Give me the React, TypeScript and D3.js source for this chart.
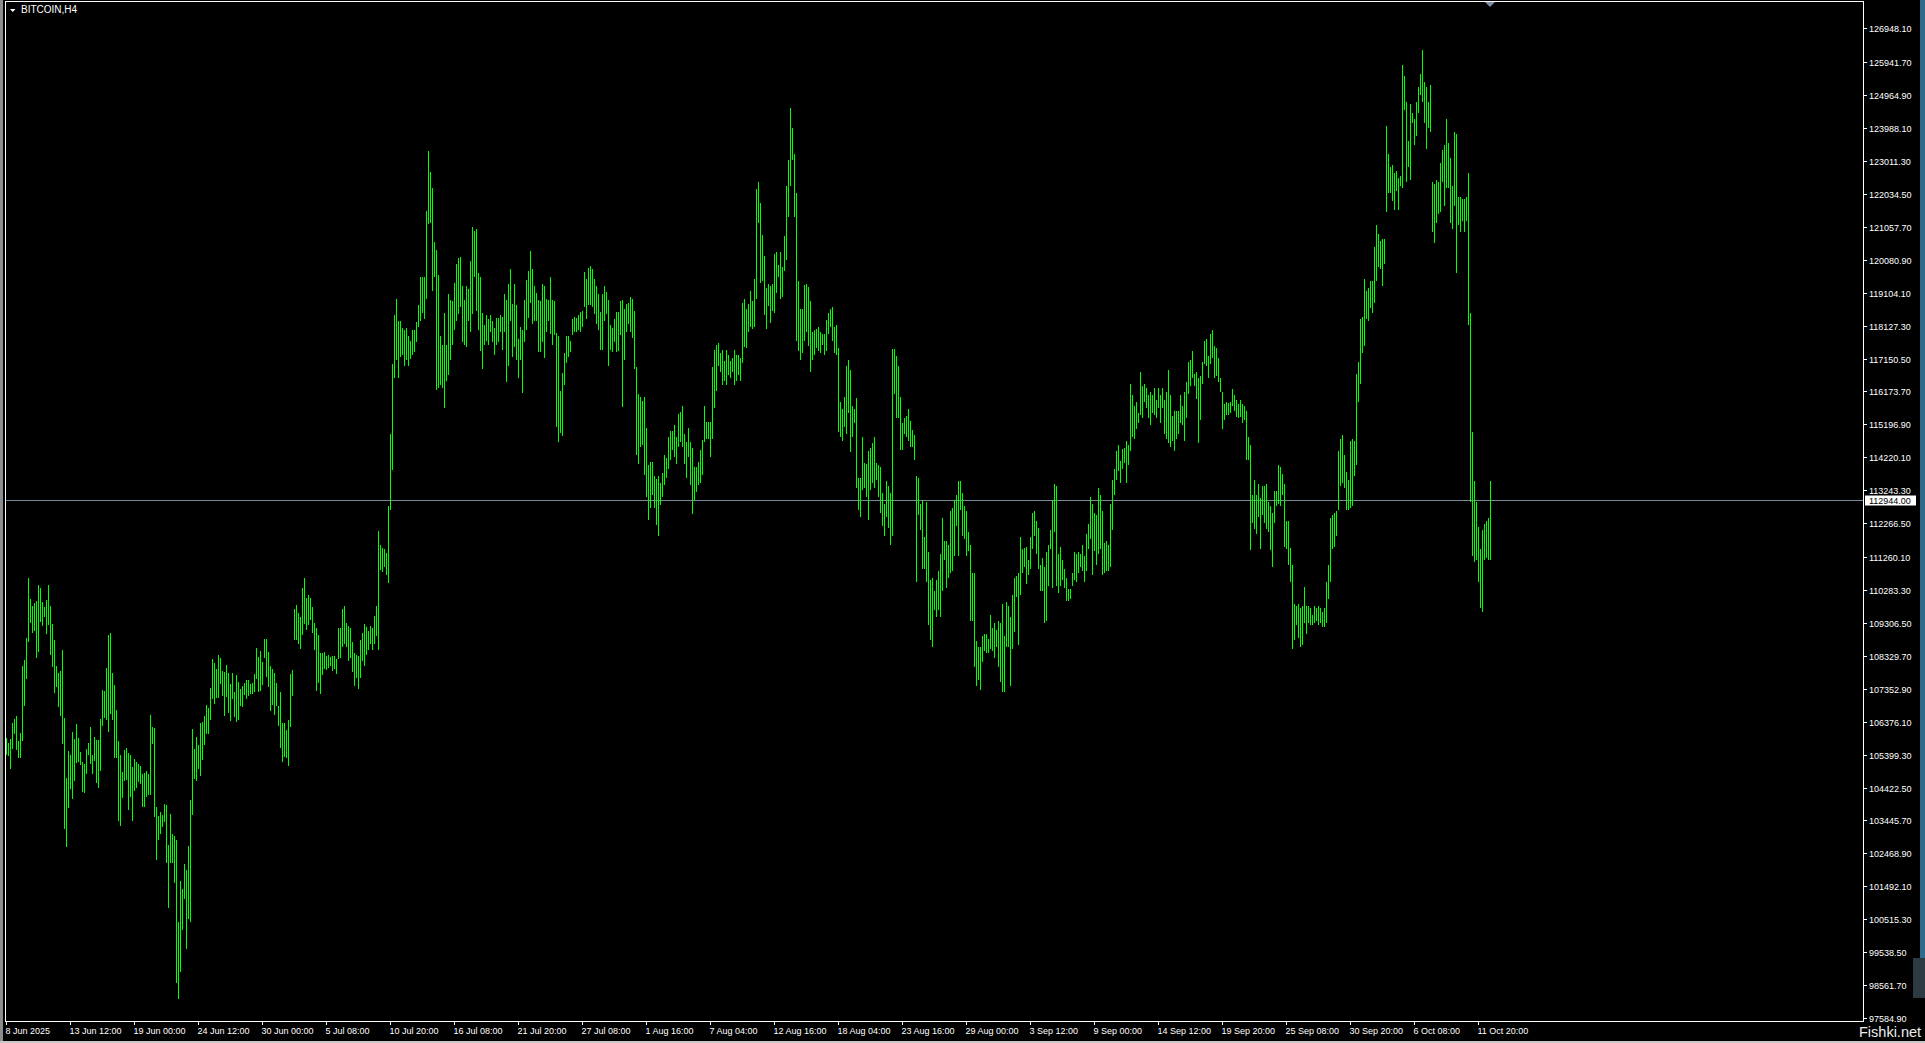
import React from 'react';
import * as d3 from 'd3';

// H4 bars, [high, low]
const junBars: [number, number][] = [
  [105880, 105440], [105730, 105410], [105850, 105020], [106330, 105610], [106450, 106060], [106540, 105580], [105790, 105350], [106030, 105350], [108020, 105850], [108200, 106890],
  [108850, 107690], [110630, 108790], [110010, 109360], [109800, 109060], [109890, 109120], [109950, 108320], [110430, 108500], [110340, 109390], [109920, 109270], [109770, 109530],
  [109980, 109030], [110430, 109300], [109800, 108410], [109270, 108050], [108790, 107280], [108020, 107460], [107810, 106860], [107870, 106590], [108500, 105760], [106480, 103240],
  [104690, 102700], [105500, 103860], [105380, 104430], [106060, 104130], [105850, 104660], [106300, 105200], [105880, 105230], [105470, 105140], [105170, 104340], [105110, 104310],
  [105560, 104870], [105730, 105440], [106210, 105170], [105380, 104870], [105910, 105260], [105820, 104600], [105820, 104460], [106450, 104960], [107310, 106300], [107280, 106540],
  [107960, 106480], [108940, 106120], [109000, 106650], [107810, 106480], [107460, 105350], [106710, 105350], [105790, 103480], [105380, 103330], [104870, 104160], [105530, 104660],
  [105580, 104690], [105440, 103800], [105380, 104190], [105020, 103480], [105260, 104370], [105170, 104460], [105110, 104630], [105050, 104580], [104810, 103890], [104840, 103890],
  [104900, 104190], [104810, 104250], [106560, 104250], [106210, 105760], [106180, 103590], [103830, 102320], [103560, 102910], [103680, 103090], [103590, 103300], [103920, 103450],
  [103890, 102230], [102700, 100890], [103620, 102230], [103030, 102230], [102970, 101630], [102850, 98660], [100420, 98190], [101630, 98990], [101400, 100240], [102140, 101160],
  [101960, 99670], [102670, 100570], [104040, 100480], [106150, 103650], [105560, 104720], [105910, 104660], [105670, 105020], [106330, 104810], [106360, 105290], [106540, 105730],
  [106860, 106060], [106770, 106060], [107370, 106480], [108230, 107100], [108110, 106950], [107930, 107130], [108350, 107130], [108260, 107540], [107870, 107190], [107840, 106590],
  [108050, 107160], [107810, 106680], [107490, 106450], [107810, 107100], [107250, 106560], [107750, 106420], [107540, 106480], [107340, 106890], [107430, 106860], [107520, 107220],
  [107600, 107100], [107600, 107190], [107490, 107250], [107520, 107250], [107780, 107310], [108550, 107690], [108290, 107310], [108470, 107340], [108140, 107520], [108820, 108320],
  [108820, 107750], [108440, 107460], [108020, 106740], [107930, 106920],
];

const julBars: [number, number][] = [
  [107810, 106620], [107520, 106890], [106830, 106300], [107250, 105640], [106330, 105230], [106330, 105380],
  [106120, 105350], [106420, 105110], [107780, 106270], [107900, 107190], [109710, 108850], [109830, 108850], [109590, 108730], [109480, 108580], [110340, 109000], [110630, 109330],
  [110040, 109150], [110130, 109300], [110040, 109450], [109770, 109060], [109300, 108550], [109150, 107340], [108940, 107570], [108410, 107250], [108410, 107810], [108440, 107990],
  [108320, 107960], [108350, 108020], [108290, 108080], [108320, 107930], [108320, 107990], [108230, 107840], [109150, 108290], [109150, 108320], [109710, 108640], [109800, 108730],
  [109300, 108640], [109210, 108230], [109150, 108320], [108730, 107900], [108410, 107490], [108350, 107720], [108320, 107400], [108790, 107720], [109000, 108230], [109270, 108080],
  [109180, 108410], [109060, 108550], [109210, 108730], [109150, 108550], [109510, 108730], [109800, 108970], [112030, 108550], [111610, 110930], [111520, 110870], [111470, 111020],
  [111380, 110780], [112770, 110540], [114900, 112710], [116960, 113900], [118440, 116630], [118890, 117140], [118240, 116630], [118240, 117230], [118030, 117290], [117970, 116960],
  [118030, 117140], [117790, 116960], [117670, 117170], [117970, 117290], [117970, 117380], [118210, 117700], [118710, 118120], [119540, 118300], [119540, 118560], [119540, 118360],
  [121500, 118950], [123290, 121180], [122660, 121210], [122190, 119190], [120580, 119600], [120350, 116250], [119600, 116310], [117790, 116400], [117550, 116310], [118500, 115740],
  [117550, 116540], [119040, 116720], [118860, 117140], [118830, 117610], [119370, 118030], [119930, 118300], [120110, 118530], [120140, 118710], [119280, 117700], [118860, 117610],
  [119280, 117550], [119190, 118300], [120020, 117970], [121030, 118530], [120910, 119600], [120970, 118620], [119660, 118030], [119540, 117410], [118500, 116870], [118120, 117610],
  [118440, 117730], [118300, 117610], [118420, 117970], [118240, 117700], [118030, 117290], [118330, 117610], [118330, 117700], [118420, 117970], [118360, 117460], [119040, 117970],
  [118860, 116510], [119340, 116960], [119780, 118300], [118740, 117230], [119340, 117550], [118710, 117140], [117730, 116630], [118060, 117140], [117970, 116160], [118860, 117700],
  [119480, 118030], [119720, 118390], [120320, 118830], [119780, 118210], [119280, 118300], [119070, 118300], [118860, 117380], [118830, 117380], [119340, 117700], [119280, 117200],
  [118890, 117970], [118860, 118300], [119540, 117910], [118860, 117610], [118830, 117880], [117880, 115150], [117790, 114730], [116160, 115000], [116720, 114910], [117290, 116400],
  [117790, 117050], [117790, 117230], [117670, 117380], [118300, 117880], [118360, 117970], [118330, 117970], [118420, 118030], [118530, 117970], [118560, 118120], [119690, 118710],
  [119510, 118360], [119810, 118770], [119870, 118770], [119780, 118710], [119510, 118530], [119280, 118210], [119040, 118030], [118530, 117460], [119040, 117460], [119280, 118300],
  [119100, 118530], [118860, 116960], [118120, 117460], [118030, 117380], [118300, 117700], [118530, 117380], [118530, 117410], [118830, 117880], [118860, 115770], [118620, 117140],
  [118740, 117970], [118770, 118210], [118950, 117970], [118890, 117790], [118560, 116870], [116870, 114320],
];

const augBars: [number, number][] = [
  [116070, 114080], [115980, 114580], [115890, 114640], [115980, 113750],
  [115060, 113100], [113990, 112390], [114080, 112770], [114080, 113160], [113660, 112770], [113570, 112270], [113660, 111940], [113430, 112860], [113750, 113100], [114260, 113430],
  [114170, 113660], [114820, 113930], [115000, 114170], [115000, 114490], [115150, 114260], [114820, 114080], [115500, 114580], [115560, 114730], [115740, 114580], [114910, 114080],
  [114670, 113660], [115060, 114260], [114670, 113430], [114490, 112590], [113930, 113010], [113930, 113250], [114080, 113430], [114410, 113510], [114730, 113750], [115740, 114730],
  [115240, 114820], [115240, 114820], [115240, 114260], [116870, 114820], [117380, 115740], [117550, 116220], [117610, 116960], [117290, 116810], [117380, 116400], [117050, 116540],
  [117380, 116400], [117230, 116720], [117050, 116630], [117140, 116810], [117380, 116400], [117230, 116540], [117230, 116720], [117140, 116540], [118770, 117050], [118890, 117550],
  [118620, 117520], [118740, 117970], [119130, 118120], [118830, 118060], [119510, 118120], [122160, 118950], [122370, 121210], [121740, 119450], [120790, 119510], [120170, 118500],
  [119220, 118060], [119340, 118740], [119280, 118240], [119340, 118620], [120230, 118560], [120290, 119130], [119900, 119600], [120290, 118950], [119840, 119010], [120760, 119780],
  [122250, 120110], [123020, 121390], [124560, 122310], [123970, 123080], [123200, 121390], [122040, 117730], [119450, 117410], [118620, 117140], [118620, 117350], [119310, 117730],
  [119340, 117970], [119250, 117580], [118830, 116810], [117910, 117140], [117970, 117290], [118000, 117520], [118060, 117410], [117910, 117350], [117850, 117610], [117850, 117290],
  [118270, 117410], [118500, 117910], [118620, 118120], [118650, 117730], [118060, 117350], [118120, 117290], [117460, 115030], [115860, 114880], [115650, 114760], [115980, 115150],
  [116900, 114970], [117080, 115590], [116810, 114410], [115740, 114880], [115650, 115270], [115950, 113340], [113600, 112710], [113600, 112500], [114820, 113280], [114050, 113340],
  [114020, 113100], [114380, 112390], [114490, 113280], [114640, 113490], [114820, 113340], [114050, 113600], [113990, 113100], [113930, 112620], [113160, 112240], [112830, 111940],
  [113490, 112500], [113340, 112180], [113160, 111670], [117410, 111940], [117410, 116130], [117200, 115420], [116900, 115420], [115980, 114490], [115210, 114490], [115360, 114970],
  [115420, 114880], [115650, 114760], [115270, 114580], [115030, 114580], [114880, 114170], [113660, 110570], [113600, 112560], [112830, 112120], [112950, 110960], [111850, 110960],
  [112890, 110570], [111410, 109300], [110570, 108850], [110630, 108640], [110250, 109740], [110570, 109530], [110840, 109740], [111350, 109530], [112390, 110310], [111730, 111230],
  [111730, 110400], [111610, 110690], [112620, 110840], [112710, 110900], [112950, 111350], [113100, 112240], [113490, 111350], [113490, 112710], [113160, 111940], [112770, 111850],
  [112620, 111350], [112000, 111470], [111610, 109420], [110780, 109420], [110780, 108050], [108760, 107490], [108580, 107660], [108580, 107370], [108910, 108200], [108970, 108530],
  [108970, 108470], [108820, 108470], [109530, 108580], [109150, 108530], [109300, 108320], [109090, 108640], [109360, 108050],
];

const sepBars: [number, number][] = [
  [109300, 107600], [109860, 107310], [108910, 107310],
  [109920, 108640], [109800, 108640], [109480, 107490], [110130, 108580], [110630, 109090], [110690, 110130], [110780, 108700], [111850, 110190], [111470, 110840], [111500, 111020],
  [111550, 110520], [111170, 110780], [111850, 110960], [112560, 111550], [112620, 111940], [112330, 111410], [112120, 110960], [111020, 110310], [111230, 110310], [110960, 109360],
  [111410, 109420], [111610, 110460], [112060, 111550], [112950, 110400], [113400, 112060], [113340, 110460], [111350, 110250], [111550, 110460], [111170, 110630], [110900, 110400],
  [110630, 110010], [110310, 110010], [110310, 110070], [110780, 110460], [111410, 110630], [111350, 110570], [111410, 110840], [111350, 111020], [111610, 110900], [111290, 110570],
  [111940, 110900], [112240, 111550], [113040, 111850], [112830, 110780], [112560, 111470], [112500, 111080], [113280, 111410], [113100, 111550], [112620, 110780], [111670, 110840],
  [111730, 110900], [111610, 110900], [112830, 111020], [113540, 112120], [113870, 113160], [114380, 113600], [114580, 113870], [114110, 113490], [114440, 113930], [114490, 114110],
  [114700, 113490], [114580, 114050], [116370, 114440], [116040, 114880], [115740, 114820], [115860, 115090], [115530, 115270], [116750, 115530], [116310, 115420], [116370, 115920],
  [116250, 115740], [116040, 115420], [116130, 115210], [116040, 115590], [116250, 115530], [115920, 115420], [116250, 115740], [116040, 115270], [116250, 115740], [115920, 114970],
  [116130, 114820], [116810, 114700], [116040, 114580], [115420, 114760], [115590, 114440], [115590, 114820], [115590, 114970], [116040, 115270], [115740, 115210], [116130, 114760],
  [116430, 115420], [117020, 116130], [117080, 116370], [117350, 116630], [116690, 116370], [116750, 115980], [116570, 114700], [116630, 115360], [117020, 116430], [117670, 117020],
  [117730, 116960], [117200, 116630], [117850, 117020], [117970, 117200], [117520, 116630], [117460, 116690], [117140, 116510], [116570, 116190], [116130, 115090], [115800, 115360],
  [115860, 115530], [115830, 115530], [115860, 115590], [116220, 115800], [116040, 115650], [115920, 115470], [115800, 115420], [115920, 115470], [115800, 115270], [115740, 115360],
  [115590, 114170], [114820, 114170], [114580, 111500], [113100, 112330], [113540, 112150], [113100, 112000], [113400, 112500], [113010, 111550], [113340, 112560], [113340, 112330],
  [113400, 112150], [112890, 112060], [112770, 111500], [112560, 111020], [113220, 112330], [113220, 112830], [113990, 112890], [113930, 112830], [113720, 113160], [113400, 111610],
  [112330, 111550], [112330, 111080], [111500, 110570], [111020, 108580], [109860, 108850], [109800, 109300], [109860, 108910], [109740, 108640], [109800, 108700], [110370, 109360],
  [109800, 109030], [109800, 109360], [109740, 109300], [109530, 109300], [109800, 109360], [109740, 109420], [109800, 109300], [109740, 109360], [109620, 109240], [109740, 109240],
  [110520, 109360], [111020, 110070], [112390, 110570], [112500, 111550], [112560, 111610], [112620, 111940], [114380, 112710], [114760, 113400], [114880, 113490], [114260, 113340],
  [113780, 112710], [113540, 112710], [114700, 112770], [114760, 112830], [114700, 113720], [116690, 114050], [117020, 115920], [118300, 116430], [118360, 117350], [119510, 117580],
  [119130, 118360], [119220, 118300], [119450, 118680], [119450, 118560], [120430, 118830], [121090, 119510], [120820, 119900], [120610, 119840], [120670, 119340], [120670, 119990],
  [124030, 121530], [123200, 122100], [122810, 122100], [122870, 121860], [122630, 121590], [122690, 122160], [122480, 121590], [122540, 122310], [125840, 122250], [125510, 124560],
  [124740, 122420], [123580, 122870], [124680, 122480], [124410, 124180], [124240, 123520],
];

const octBars: [number, number][] = [
  [124740, 123790], [125190, 124470], [125570, 125010], [126290, 124800], [125340, 124180],
  [125190, 123400], [124740, 124030], [125250, 123910], [122370, 120940], [122310, 120610], [122420, 121210], [122370, 121470], [122930, 121530], [123320, 122420], [123460, 121710],
  [124240, 122250], [123520, 122250], [123080, 121210], [122250, 121030], [123850, 121710], [123790, 119720], [121920, 121150], [121920, 120940], [121860, 121270], [121860, 120940],
  [121920, 121270], [122630, 118180], [118500, 112950], [114970, 111350], [113490, 111170], [112890, 111230], [112150, 110570], [111470, 109800], [112060, 109680], [112240, 111230],
  [112330, 111290], [112390, 111230], [113490, 111230],
];

const dateLabels = [
  '8 Jun 2025', '13 Jun 12:00', '19 Jun 00:00', '24 Jun 12:00', '30 Jun 00:00', '5 Jul 08:00',
  '10 Jul 20:00', '16 Jul 08:00', '21 Jul 20:00', '27 Jul 08:00', '1 Aug 16:00', '7 Aug 04:00',
  '12 Aug 16:00', '18 Aug 04:00', '23 Aug 16:00', '29 Aug 00:00', '3 Sep 12:00', '9 Sep 00:00',
  '14 Sep 12:00', '19 Sep 20:00', '25 Sep 08:00', '30 Sep 20:00', '6 Oct 08:00', '11 Oct 20:00',
];
const barsPerLabel = 32;

const priceLabels = [
  126948.1, 125941.7, 124964.9, 123988.1, 123011.3, 122034.5, 121057.7, 120080.9, 119104.1, 118127.3,
  117150.5, 116173.7, 115196.9, 114220.1, 113243.3, 112266.5, 111260.1, 110283.3, 109306.5, 108329.7,
  107352.9, 106376.1, 105399.3, 104422.5, 103445.7, 102468.9, 101492.1, 100515.3, 99538.5, 98561.7, 97584.9,
];

const bidPrice = 112944.0;
const symbol = 'BITCOIN,H4';

const W = 1925;
const H = 1043;
const frame = { left: 5, top: 1, right: 1863, bottom: 1021 };
const font = "'Liberation Sans', Arial, sans-serif";

const App = () => {
  const bars = [...junBars, ...julBars, ...augBars, ...sepBars, ...octBars];

  const x = d3
    .scaleLinear()
    .domain([0, bars.length - 1])
    .range([6, 6 + 2 * (bars.length - 1)]);
  const y = d3
    .scaleLinear()
    .domain([d3.min(priceLabels) as number, d3.max(priceLabels) as number])
    .range([1018, 28.3]);

  const bidY = Math.round(y(bidPrice)) + 0.5;
  const lastX = x(bars.length - 1);

  return (
    <svg
      width={W}
      height={H}
      style={{ position: 'absolute', left: 0, top: 0, display: 'block', background: '#000' }}
    >
      <rect x={0} y={0} width={W} height={H} fill="#000" />
      {/* window edges */}
      <rect x={0} y={0} width={3} height={H} fill="#8c8c8c" />
      <rect x={1920} y={0} width={5} height={958} fill="#2f6a8a" />
      <rect x={1913} y={958} width={12} height={40} fill="#2e3a42" />
      <rect x={0} y={1041} width={W} height={2} fill="#c8c8c8" />

      {/* bid line */}
      <line x1={frame.left + 1} x2={frame.right} y1={bidY} y2={bidY} stroke="#778899" strokeWidth={1} shapeRendering="crispEdges" />

      {/* bars */}
      <g stroke="#00ff00" strokeWidth={1} shapeRendering="crispEdges">
        {bars.map((b, i) => {
          const bx = Math.round(x(i)) + 0.5;
          return <line key={i} x1={bx} x2={bx} y1={Math.floor(y(b[0]))} y2={Math.ceil(y(b[1])) + 1} />;
        })}
      </g>

      {/* frame */}
      <rect
        x={frame.left + 0.5}
        y={frame.top + 0.5}
        width={frame.right - frame.left}
        height={frame.bottom - frame.top}
        fill="none"
        stroke="#fff"
        strokeWidth={1}
        shapeRendering="crispEdges"
      />

      {/* price axis */}
      <g fontFamily={font} fontSize={9} fill="#fff">
        {priceLabels.map((p) => {
          const ty = Math.round(y(p)) + 0.5;
          return (
            <g key={p}>
              <line x1={frame.right} x2={frame.right + 4} y1={ty} y2={ty} stroke="#fff" shapeRendering="crispEdges" />
              <text x={1869} y={ty + 3.5}>{p.toFixed(2)}</text>
            </g>
          );
        })}
      </g>
      <rect x={1865} y={bidY - 5} width={51} height={10} fill="#fff" />
      <text x={1869} y={bidY + 3.5} fontFamily={font} fontSize={9} fill="#000">
        {bidPrice.toFixed(2)}
      </text>

      {/* time axis */}
      <g fontFamily={font} fontSize={9} fill="#fff">
        {dateLabels.map((d, k) => {
          const tx = Math.round(x(k * barsPerLabel)) + 0.5;
          return (
            <g key={d}>
              <line x1={tx} x2={tx} y1={frame.bottom} y2={frame.bottom + 4} stroke="#fff" shapeRendering="crispEdges" />
              <text x={tx - 1} y={1034}>{d}</text>
            </g>
          );
        })}
      </g>

      {/* title */}
      <path d="M10,9 L15.5,9 L12.75,12 Z" fill="#fff" />
      <text x={21} y={13} fontFamily={font} fontSize={10} fill="#fff">
        {symbol}
      </text>

      {/* shift marker */}
      <path d={`M${lastX - 5},2 L${lastX + 5},2 L${lastX},7 Z`} fill="#7d8da3" />

      <text x={1859} y={1037} fontFamily={font} fontSize={14.5} fill="#ededed">
        Fishki.net
      </text>
    </svg>
  );
};

export default App;
